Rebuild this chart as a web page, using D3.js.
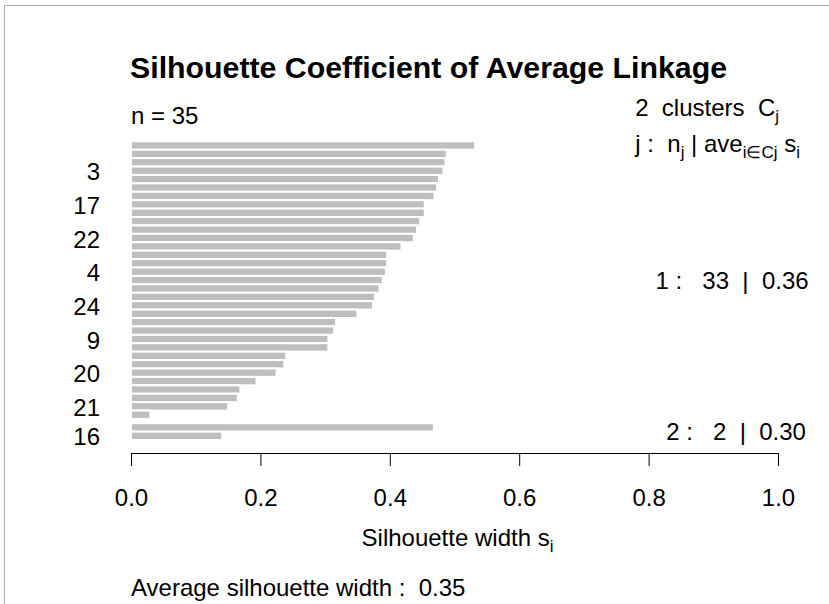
<!DOCTYPE html>
<html>
<head>
<meta charset="utf-8">
<script src="https://cdn.jsdelivr.net/npm/d3@7"></script>
<style>
body { margin: 0; background: #fff; }
svg text { font-family: "Liberation Sans", Arial, sans-serif; fill: #000; }
</style>
</head>
<body>
<svg width="829" height="604"></svg>
<script>
// silhouette widths, sorted within each cluster
var clus1 = [0.532, 0.488, 0.486, 0.483, 0.476, 0.473, 0.469, 0.454, 0.454, 0.447, 0.442,
             0.437, 0.418, 0.396, 0.396, 0.394, 0.389, 0.384, 0.377, 0.374, 0.350, 0.317,
             0.314, 0.305, 0.305, 0.240, 0.237, 0.225, 0.194, 0.169, 0.165, 0.150, 0.030]
var clus2 = [0.468, 0.141]

// only some observation names survive R's overlap check
var shownRow = [3, 7, 11, 15, 19, 23, 27, 31, 34]
var shownName = ["3", "17", "22", "4", "24", "9", "20", "21", "16"]

var xTicks = [0, 0.2, 0.4, 0.6, 0.8, 1.0]
var mainTitle = "Silhouette Coefficient of Average Linkage"

var svg = d3.select("svg")

// window frame of the screenshot
svg.append("line").attr("x1", 4).attr("x2", 829).attr("y1", 5.5).attr("y2", 5.5)
  .attr("stroke", "#ababab")
svg.append("line").attr("x1", 4.5).attr("x2", 4.5).attr("y1", 5).attr("y2", 604)
  .attr("stroke", "#ababab")

var rows = []
clus1.forEach(function(v){ rows.push({cl: 1, s: v}) })
clus2.forEach(function(v){ rows.push({cl: 2, s: v}) })

// bar slots, half a bar gap between clusters
var u = 0
rows.forEach(function(d, i){
  if (i > 0 && rows[i-1].cl != d.cl) u += 0.5
  d.pos = u
  u += 1
})

var x = d3.scaleLinear().domain([0, 1]).range([131, 778])
var y = d3.scaleLinear().domain([0, u]).range([141.3, 440])

svg.append("g").selectAll("rect")
  .data(rows)
  .enter().append("rect")
  .attr("x", x(0))
  .attr("y", d => y(d.pos))
  .attr("width", d => x(d.s) - x(0))
  .attr("height", y(1) - y(0))
  .attr("fill", "#bebebe")
  .attr("stroke", "#fff")
  .attr("stroke-width", 2)

// row labels
svg.append("g").selectAll("text")
  .data(shownRow)
  .enter().append("text")
  .attr("x", 100)
  .attr("y", d => y(rows[d].pos + 0.5))
  .attr("dy", "0.4em")
  .attr("text-anchor", "end")
  .style("font-size", "24px")
  .text((d, i) => shownName[i])

// x axis
var axis = svg.append("g")
  .attr("transform", "translate(0,453)")
  .call(d3.axisBottom(x).tickValues(xTicks).tickFormat(d3.format(".1f"))
    .tickSize(13).tickSizeOuter(0))
axis.select(".domain").attr("stroke", "#000")
axis.selectAll(".tick line").attr("stroke", "#000")
axis.selectAll(".tick text")
  .attr("y", 53).attr("dy", 0)
  .style("font-size", "24px")
  .style("font-family", "'Liberation Sans', Arial, sans-serif")

// titles
svg.append("text").attr("x", 130).attr("y", 78)
  .style("font-size", "30.3px").style("font-weight", "bold")
  .text(mainTitle)

svg.append("text").attr("x", 131).attr("y", 124)
  .style("font-size", "24px")
  .text("n = " + rows.length)

var xl = svg.append("text").attr("x", (x(0) + x(1)) / 2 + 3).attr("y", 546)
  .attr("text-anchor", "middle").style("font-size", "24px")
xl.append("tspan").text("Silhouette width s")
xl.append("tspan").attr("dy", 6).style("font-size", "17px").text("i")

var avgAll = d3.mean(rows, d => d.s)
svg.append("text").attr("x", 131).attr("y", 596)
  .style("font-size", "24px").attr("xml:space", "preserve")
  .text("Average silhouette width :  " + d3.format(".2f")(avgAll))

// cluster header, top right
var h1 = svg.append("text").attr("x", 779).attr("y", 116)
  .attr("text-anchor", "end").style("font-size", "24px").attr("xml:space", "preserve")
h1.append("tspan").text("2  clusters  C")
h1.append("tspan").attr("dy", 6).style("font-size", "17px").text("j")

var h2 = svg.append("text").attr("x", 800).attr("y", 152)
  .attr("text-anchor", "end").style("font-size", "24px").attr("xml:space", "preserve")
h2.append("tspan").text("j :  n")
h2.append("tspan").attr("dy", 6).style("font-size", "17px").text("j")
h2.append("tspan").attr("dy", -6).text(" | ave")
h2.append("tspan").attr("dy", 6).style("font-size", "17px").text("i\u2208Cj")
h2.append("tspan").attr("dy", -6).text(" s")
h2.append("tspan").attr("dy", 6).style("font-size", "17px").text("i")

// per-cluster summaries, placed like R's text(1, yj, adj = 0.8)
var clusters = [1, 2]
clusters.forEach(function(c){
  var r = rows.filter(d => d.cl == c)
  var yj = d3.mean(r, d => y(d.pos + 0.5))
  var t = svg.append("text").attr("y", yj).attr("dy", "0.35em")
    .style("font-size", "24px").attr("xml:space", "preserve")
    .text(c + " :   " + r.length + "  |  " + d3.format(".2f")(d3.mean(r, d => d.s)))
  var w = t.node().getComputedTextLength()
  t.attr("x", x(1) - 0.8 * w)
})
</script>
</body>
</html>
